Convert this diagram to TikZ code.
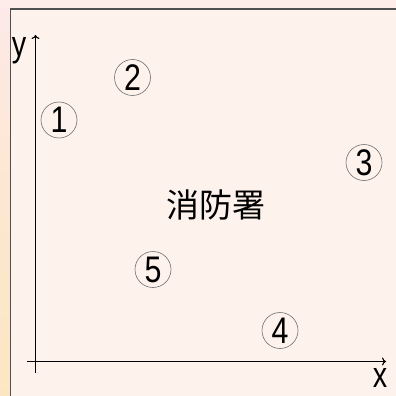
\documentclass[tikz,border=0pt]{standalone}
\usepackage{fontspec}
\usetikzlibrary{arrows.meta}
\setmainfont{Liberation Sans}
\newfontfamily\cjk{Noto Sans CJK JP}
\definecolor{panelbg}{HTML}{FEF2EC}
\definecolor{topbg}{HTML}{FDECE9}
\definecolor{striptop}{HTML}{FDE9E7}
\definecolor{stripbot}{HTML}{FCE6C2}
\definecolor{framec}{HTML}{505050}
\definecolor{circc}{HTML}{707070}
\tikzset{
  axis/.style={line width=1.2pt, draw=black, -{To[length=4pt,width=8pt]}},
  numcirc/.style={circle, draw=circc, line width=0.6pt, minimum size=36pt, inner sep=0pt},
  lbl/.style={inner sep=0pt},
}
\newcommand{\cnum}[1]{\scalebox{0.82}[1]{\fontsize{37}{37}\selectfont #1}}
\begin{document}
\begin{tikzpicture}[x=1pt,y=-1pt]
\useasboundingbox (0,0) rectangle (396,396);
\fill[topbg] (0,0) rectangle (396,396);
\shade[top color=striptop, bottom color=stripbot, middle color=stripbot!60!striptop] (0,9) rectangle (10.5,396);
\fill[panelbg] (10.5,9) rectangle (396,396);
\draw[framec, line width=1.4pt] (10.5,396) -- (10.5,9) -- (396,9);
% axes
\coordinate (ybot) at (35.5,373);
\coordinate (ytop) at (35.5,35);
\coordinate (xleft) at (27,361.5);
\coordinate (xright) at (386,361.5);
\draw[axis] (ybot) -- (ytop);
\draw[axis] (xleft) -- (xright);
\node[lbl] (ylab) at (19,51) {\scalebox{0.8}[1]{\fontsize{36}{36}\selectfont y}};
\node[lbl] (xlab) at (380,378) {\scalebox{0.8}[1]{\fontsize{36}{36}\selectfont x}};
% circled numbers
\node[numcirc] (n1) at (59,120) {\cnum{1}};
\node[numcirc] (n2) at (132.5,77.5) {\cnum{2}};
\node[numcirc] (n3) at (364,162.5) {\cnum{3}};
\node[numcirc] (n4) at (280,330.5) {\cnum{4}};
\node[numcirc] (n5) at (153,269.5) {\cnum{5}};
\node[lbl] (fs) at (216,205) {\cjk\fontsize{33}{33}\selectfont 消防署};
\end{tikzpicture}
\end{document}
